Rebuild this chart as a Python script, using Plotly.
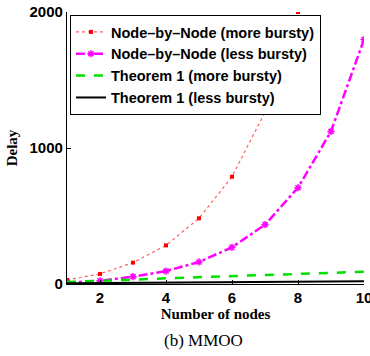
import plotly.graph_objects as go

nodes = [1, 2, 3, 4, 5, 6, 7, 8, 9, 10]
nbn_more = [30, 74, 157, 284, 483, 789, 1264, 2000]
nbn_less = [10, 24, 54, 95, 162, 270, 436, 708, 1122, 1798]
thm_more = [15, 22, 32, 42, 50, 59, 68, 77, 84, 90]
thm_less = [5, 7, 9, 11, 12, 14, 15, 17, 18, 20]

x_ticks = [2, 4, 6, 8, 10]
y_ticks = [0, 1000, 2000]

names = ["Node–by–Node (more bursty)", "Node–by–Node (less bursty)",
         "Theorem 1 (more bursty)", "Theorem 1 (less bursty)"]

fig = go.Figure()
fig.add_trace(go.Scatter(
    x=nodes[:len(nbn_more)], y=nbn_more, name=f"<b>{names[0]}</b>", mode="lines+markers",
    line=dict(color="#ff6060", width=1.2, dash="dot"),
    marker=dict(symbol="square", size=4, color="red")))
fig.add_trace(go.Scatter(
    x=nodes, y=nbn_less, name=f"<b>{names[1]}</b>", mode="lines+markers",
    line=dict(color="magenta", width=2.5, dash="dashdot"),
    marker=dict(symbol="asterisk-open", size=6, color="magenta",
                line=dict(color="magenta", width=1.5))))
fig.add_trace(go.Scatter(
    x=nodes, y=thm_more, name=f"<b>{names[2]}</b>", mode="lines",
    line=dict(color="#00e000", width=2.5, dash="dash")))
fig.add_trace(go.Scatter(
    x=nodes, y=thm_less, name=f"<b>{names[3]}</b>", mode="lines",
    line=dict(color="black", width=2)))

tickfont = dict(family="Liberation Sans, Arial, sans-serif", size=15, color="black")
fig.update_layout(
    width=370, height=356,
    margin=dict(l=67, r=6, t=12, b=72, autoexpand=False),
    paper_bgcolor="white", plot_bgcolor="white",
    showlegend=True,
    legend=dict(x=0.01, y=0.989, xanchor="left", yanchor="top",
                bgcolor="white", bordercolor="black", borderwidth=1,
                font=dict(family="Liberation Sans, Arial, sans-serif", size=14.5, color="black"),
                tracegroupgap=0, itemwidth=30),
    xaxis=dict(range=[1, 10], tickvals=x_ticks, ticktext=[f"<b>{v}</b>" for v in x_ticks],
               showline=True, linecolor="black", linewidth=1.2, mirror=False,
               ticks="inside", ticklen=4, tickcolor="black", showgrid=False, zeroline=False,
               tickfont=tickfont, ticklabeloverflow="allow", automargin=False,
               title=dict(text="<b>Number of nodes</b>", standoff=0,
                          font=dict(family="Liberation Serif, Times New Roman, serif", size=15, color="black"))),
    yaxis=dict(range=[0, 2000], tickvals=y_ticks, ticktext=[f"<b>{v}</b>" for v in y_ticks],
               showline=True, linecolor="black", linewidth=1.2, mirror=False,
               ticks="inside", ticklen=4, tickcolor="black", showgrid=False, zeroline=False,
               tickfont=tickfont, ticklabeloverflow="allow", automargin=False,
               title=dict(text="<b>Delay</b>", standoff=8,
                          font=dict(family="Liberation Serif, Times New Roman, serif", size=15, color="black"))),
)
fig.add_annotation(text="(b) MMOO", xref="paper", yref="paper", x=0.458, y=-0.165,
                   xanchor="center", yanchor="top", showarrow=False,
                   font=dict(family="Liberation Serif, Times New Roman, serif", size=17, color="black"))
fig.write_html("out.html", config={"displayModeBar": False},
               post_script="document.body.style.margin='0';")
